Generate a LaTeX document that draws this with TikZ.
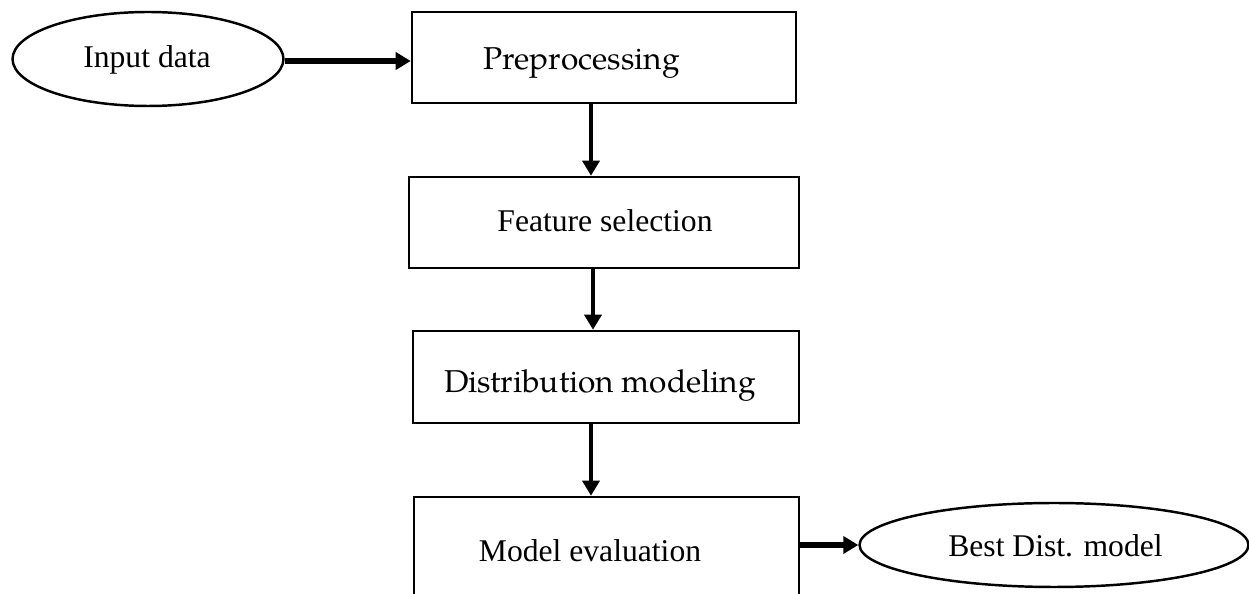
\documentclass[tikz,border=0pt]{standalone}
\usepackage{fontspec}
\setmainfont{Liberation Serif}
\newfontfamily\palfont{TeX Gyre Pagella}
\usetikzlibrary{shapes.geometric,arrows.meta}

\begin{document}
\begin{tikzpicture}[x=0.02cm,y=-0.02cm,
        box/.style={draw,line width=1.5pt,inner sep=0pt},
        oval/.style={draw,ellipse,line width=1.4pt,inner sep=0pt},
        txt/.style={anchor=base,inner sep=0pt,font=\fontsize{18}{20}\selectfont},
        ptxt/.style={txt,font=\fontsize{18}{20}\selectfont\palfont},
        vline/.style={line width=2pt,-{Triangle[width=17*0.02cm,length=15*0.02cm]}},
        hline/.style={line width=2.9pt,-{Triangle[width=17*0.02cm,length=15*0.02cm]}}]
        \useasboundingbox (0,0) rectangle (1249,594);
        % shapes
        \node[oval,minimum width=5.42cm,minimum height=1.88cm] (in) at (148,59) {};
        \node[box,minimum width=7.68cm,minimum height=1.82cm] (pre) at (604,57.5) {};
        \node[box,minimum width=7.8cm,minimum height=1.82cm] (feat) at (604,222.5) {};
        \node[box,minimum width=7.72cm,minimum height=1.84cm] (dist) at (606,377) {};
        \node[box,minimum width=7.7cm,minimum height=2.24cm] (eval) at (606.5,553) {};
        \node[oval,minimum width=7.78cm,minimum height=1.68cm] (best) at (1054,545) {};
        % labels
        \node[txt] (inT) at (147,68) {Input data};
        \node[ptxt] (preT) at (581.5,70) {Preprocessing};
        \node[txt] (featT) at (605,232) {Feature selection};
        \node[ptxt] (distT) at (600,393) {Distribution modeling};
        \node[txt] (evalT) at (590,562) {Model evaluation};
        \node[txt] (bestT) at (1055.5,557) {Best Dist. model};
        % arrows
        \draw[hline] ([yshift=-0.04cm]in.east) -- ([yshift=-0.04cm]in.east -| pre.west);
        \draw[vline] ([xshift=-0.26cm]pre.south) -- ([xshift=-0.26cm]pre.south |- feat.north);
        \draw[vline] ([xshift=-0.22cm]feat.south) -- ([xshift=-0.22cm]feat.south |- dist.north);
        \draw[vline] ([xshift=-0.3cm]dist.south) -- ([xshift=-0.3cm]dist.south |- eval.north);
        \draw[hline] (best.west -| eval.east) -- (best.west);
\end{tikzpicture}
\end{document}
